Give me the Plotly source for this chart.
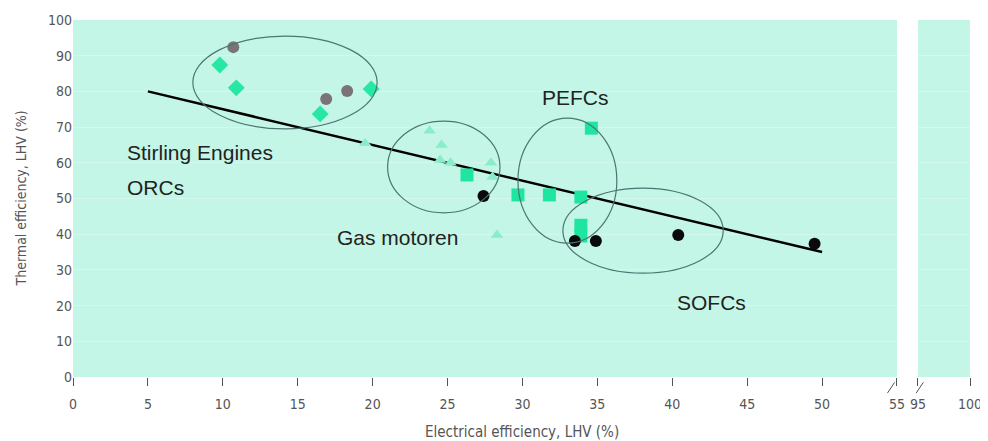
import plotly.graph_objects as go

# ---- data ----
stirling_grey_x = [10.7, 16.9, 18.3]
stirling_grey_y = [92.4, 77.9, 80.1]

orc_diamond_x = [9.8, 10.9, 16.5, 19.9]
orc_diamond_y = [87.4, 81.0, 73.7, 80.7]

gas_light_x = [19.5, 23.8, 24.6, 24.5, 25.2, 27.9, 28.0, 28.3]
gas_light_y = [65.5, 69.0, 65.0, 60.8, 60.0, 60.0, 56.0, 39.8]

pefc_square_x = [26.3, 29.7, 31.8, 33.9, 34.6, 33.9, 33.9]
pefc_square_y = [56.6, 51.0, 51.0, 50.4, 69.7, 42.5, 39.5]

sofc_black_x = [27.4, 33.5, 34.9, 40.4, 49.5]
sofc_black_y = [50.7, 38.1, 38.1, 39.8, 37.3]

trend_x = [5, 50]
trend_y = [80, 35]

# ellipses: (x0, x1, y0, y1)
ellipses = [
    (8.0, 20.3, 69.5, 95.5),
    (21.0, 28.5, 46.0, 71.7),
    (29.7, 36.3, 37.5, 72.5),
    (32.7, 43.4, 29.1, 52.9),
]

labels = [
    ("Stirling Engines", 3.5, 63.0),
    ("ORCs", 3.5, 53.2),
    ("Gas motoren", 17.5, 39.2),
    ("PEFCs", 31.2, 78.4),
    ("SOFCs", 40.2, 21.0),
]

x_ticks_main = [0, 5, 10, 15, 20, 25, 30, 35, 40, 45, 50, 55]
x_ticks_right = [95, 100]
y_ticks = [0, 10, 20, 30, 40, 50, 60, 70, 80, 90, 100]

BG = "#c3f6e6"
NARROW = "DejaVu Sans Condensed, Liberation Sans Narrow, Arial"
TICKFONT = dict(family=NARROW, size=14, color="#555555")

fig = go.Figure()

fig.add_trace(go.Scatter(x=trend_x, y=trend_y, mode="lines",
                         line=dict(color="black", width=2.5), showlegend=False))
fig.add_trace(go.Scatter(x=gas_light_x, y=gas_light_y, mode="markers",
                         marker=dict(symbol="triangle-up", size=11, color="#8aedc9"), showlegend=False))
fig.add_trace(go.Scatter(x=stirling_grey_x, y=stirling_grey_y, mode="markers",
                         marker=dict(symbol="circle", size=12, color="#7a7378"), showlegend=False))
fig.add_trace(go.Scatter(x=orc_diamond_x, y=orc_diamond_y, mode="markers",
                         marker=dict(symbol="diamond", size=13, color="#26e7a3"), showlegend=False))
fig.add_trace(go.Scatter(x=pefc_square_x, y=pefc_square_y, mode="markers",
                         marker=dict(symbol="square", size=13, color="#1ee6a0"), showlegend=False))
fig.add_trace(go.Scatter(x=sofc_black_x, y=sofc_black_y, mode="markers",
                         marker=dict(symbol="circle", size=12, color="#0a0a0a"), showlegend=False))

# empty trace on right segment so axis shows
fig.add_trace(go.Scatter(x=[97.5], y=[50], mode="markers", marker=dict(opacity=0),
                         xaxis="x2", yaxis="y", showlegend=False, hoverinfo="skip"))

shapes = []
shapes.append(dict(type="rect", xref="x", yref="y", x0=0, x1=55, y0=0, y1=100,
                   fillcolor=BG, line=dict(width=0), layer="below"))
shapes.append(dict(type="rect", xref="x2", yref="y", x0=95, x1=100, y0=0, y1=100,
                   fillcolor=BG, line=dict(width=0), layer="below"))
for (x0, x1, y0, y1) in ellipses:
    shapes.append(dict(type="circle", xref="x", yref="y", x0=x0, x1=x1, y0=y0, y1=y1,
                       line=dict(color="#4d7672", width=1.2)))
# axis-break marks
for xp in [0.912, 0.944]:
    shapes.append(dict(type="line", xref="paper", yref="paper", x0=xp - 0.004, x1=xp + 0.004,
                       y0=-0.045, y1=-0.015, line=dict(color="#555555", width=1)))

annotations = []
for (txt, x, y) in labels:
    annotations.append(dict(text=txt, x=x, y=y, xref="x", yref="y", showarrow=False,
                            xanchor="left", yanchor="middle",
                            font=dict(family="Arial, Liberation Sans", size=21, color="#222222")))
annotations.append(dict(text="Electrical efficiency, LHV (%)", x=0.5, y=0, xref="paper", yref="paper",
                        yanchor="middle", yshift=-55, showarrow=False,
                        font=dict(family=NARROW, size=15, color="#555555")))
annotations.append(dict(text="Thermal efficiency, LHV (%)", x=0, y=0.5, xref="paper", yref="paper",
                        xanchor="center", xshift=-53, textangle=-90, showarrow=False,
                        font=dict(family=NARROW, size=14, color="#555555")))

fig.update_layout(
    width=980, height=433,
    margin=dict(l=65, r=18, t=12, b=64, autoexpand=False),
    paper_bgcolor="white",
    plot_bgcolor="white",
    shapes=shapes,
    annotations=annotations,
    xaxis=dict(domain=[0, 0.9186], range=[0, 55], tickvals=x_ticks_main, automargin=False,
               showgrid=False, zeroline=False, showline=False,
               ticks="outside", ticklen=8, tickcolor="#555555", tickwidth=1,
               ticklabelstandoff=6, tickfont=TICKFONT),
    xaxis2=dict(domain=[0.942, 1], range=[95, 100], tickvals=x_ticks_right, anchor="y", automargin=False,
                showgrid=False, zeroline=False, showline=False,
                ticks="outside", ticklen=8, tickcolor="#555555", tickwidth=1,
                ticklabelstandoff=6, tickfont=TICKFONT),
    yaxis=dict(range=[0, 100], tickvals=y_ticks, showgrid=True, gridcolor="#d3f9ee", gridwidth=1,
               zeroline=False, showline=False, ticks="", tickfont=TICKFONT, automargin=False),
)

fig.write_html("out.html")
